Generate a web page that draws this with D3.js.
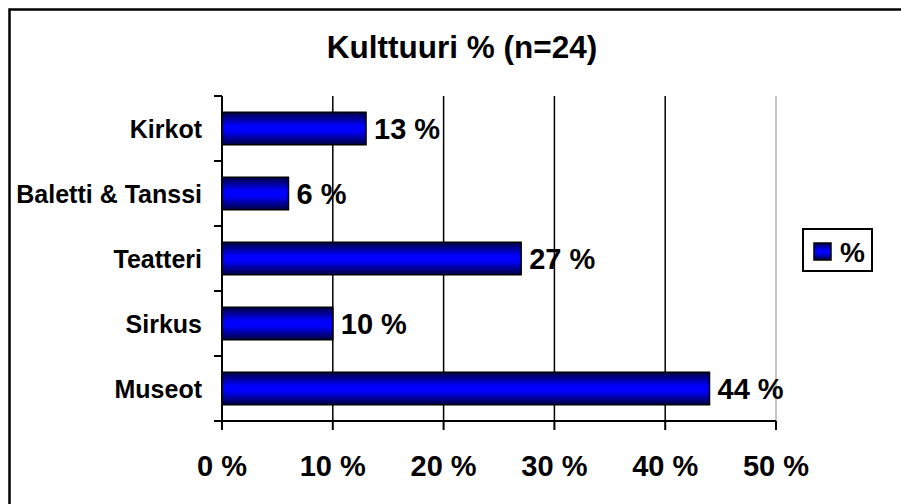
<!DOCTYPE html>
<html>
<head>
<meta charset="utf-8">
<script src="https://cdn.jsdelivr.net/npm/d3@7"></script>
<style>
  html, body { margin: 0; padding: 0; background: #fff; }
  svg { display: block; }
  text { font-family: Arial, "Liberation Sans", sans-serif; font-weight: bold; fill: #000; }
</style>
</head>
<body>
<svg id="chart" width="901" height="504"></svg>
<script>
const title = "Kulttuuri % (n=24)";
const categories = ["Kirkot", "Baletti & Tanssi", "Teatteri", "Sirkus", "Museot"];
const values = [13, 6, 27, 10, 44];
const valueLabels = ["13 %", "6 %", "27 %", "10 %", "44 %"];
const xTicks = [0, 10, 20, 30, 40, 50];
const xTickLabels = ["0 %", "10 %", "20 %", "30 %", "40 %", "50 %"];
const legendLabel = "%";

const svg = d3.select("#chart");

const defs = svg.append("defs");
const grad = defs.append("linearGradient").attr("id", "barGrad")
  .attr("x1", 0).attr("y1", 0).attr("x2", 0).attr("y2", 1);
grad.append("stop").attr("offset", "0%").attr("stop-color", "#000040");
grad.append("stop").attr("offset", "42%").attr("stop-color", "#0000ff");
grad.append("stop").attr("offset", "58%").attr("stop-color", "#0000ff");
grad.append("stop").attr("offset", "100%").attr("stop-color", "#000040");

// outer border (extends beyond the visible area on the right/bottom)
svg.append("rect").attr("x", 9.5).attr("y", 9.5).attr("width", 1000).attr("height", 1000)
  .attr("fill", "none").attr("stroke", "#000").attr("stroke-width", 2.5);

const plot = { left: 222, right: 776, top: 96, bottom: 421 };

const x = d3.scaleLinear().domain([0, 50]).range([plot.left, plot.right]);
const y = d3.scaleBand().domain(categories).range([plot.top, plot.bottom]).paddingInner(0.5).paddingOuter(0.25);
const yb = d3.scaleBand().domain(categories).range([plot.top, plot.bottom]);

// gridlines
svg.append("g").selectAll("line").data(xTicks.filter(d => d > 0)).join("line")
  .attr("x1", d => x(d)).attr("x2", d => x(d))
  .attr("y1", plot.top).attr("y2", plot.bottom)
  .attr("stroke", d => d === 50 ? "#a0a0a0" : "#000")
  .attr("stroke-width", d => d === 50 ? 1.2 : 1.5);

// title
svg.append("text").attr("x", 462).attr("y", 58).attr("text-anchor", "middle")
  .style("font-size", "31.5px").text(title);

// bars
svg.append("g").selectAll("rect").data(categories).join("rect")
  .attr("x", x(0))
  .attr("y", d => y(d))
  .attr("width", (d, i) => x(values[i]) - x(0))
  .attr("height", y.bandwidth())
  .attr("fill", "url(#barGrad)")
  .attr("stroke", "#000").attr("stroke-width", 1.5);

// value labels
svg.append("g").selectAll("text").data(categories).join("text")
  .attr("x", (d, i) => x(values[i]) + 8)
  .attr("y", d => y(d) + y.bandwidth() / 2 + 10)
  .style("font-size", "29px")
  .text((d, i) => valueLabels[i]);

// y axis
const yAxisG = svg.append("g");
yAxisG.append("line").attr("x1", plot.left).attr("x2", plot.left)
  .attr("y1", plot.top).attr("y2", plot.bottom + 9)
  .attr("stroke", "#000").attr("stroke-width", 2);
const bounds = categories.map(c => yb(c)).concat([plot.bottom]);
yAxisG.selectAll("line.tk").data(bounds).join("line").attr("class", "tk")
  .attr("x1", plot.left - 8).attr("x2", plot.left)
  .attr("y1", d => d).attr("y2", d => d)
  .attr("stroke", "#000").attr("stroke-width", 2);
yAxisG.selectAll("text").data(categories).join("text")
  .attr("x", 202).attr("y", d => yb(d) + yb.bandwidth() / 2 + 9)
  .attr("text-anchor", "end").style("font-size", "25px").text(d => d);

// x axis
const xAxisG = svg.append("g");
xAxisG.append("line").attr("x1", plot.left - 8).attr("x2", plot.right)
  .attr("y1", plot.bottom).attr("y2", plot.bottom)
  .attr("stroke", "#000").attr("stroke-width", 2);
xAxisG.selectAll("line.tk").data(xTicks).join("line").attr("class", "tk")
  .attr("x1", d => x(d)).attr("x2", d => x(d))
  .attr("y1", plot.bottom).attr("y2", plot.bottom + 9)
  .attr("stroke", "#000").attr("stroke-width", 2);
xAxisG.selectAll("text").data(xTicks).join("text")
  .attr("x", d => x(d)).attr("y", 476).attr("text-anchor", "middle")
  .style("font-size", "29px").text((d, i) => xTickLabels[i]);

// legend
const lg = svg.append("g");
lg.append("rect").attr("x", 803).attr("y", 229).attr("width", 69).attr("height", 42)
  .attr("fill", "#fff").attr("stroke", "#000").attr("stroke-width", 2);
lg.append("rect").attr("x", 814).attr("y", 243).attr("width", 17).attr("height", 17)
  .attr("fill", "url(#barGrad)").attr("stroke", "#000").attr("stroke-width", 1.5);
lg.append("text").attr("x", 840).attr("y", 262).style("font-size", "28px").text(legendLabel);
</script>
</body>
</html>
